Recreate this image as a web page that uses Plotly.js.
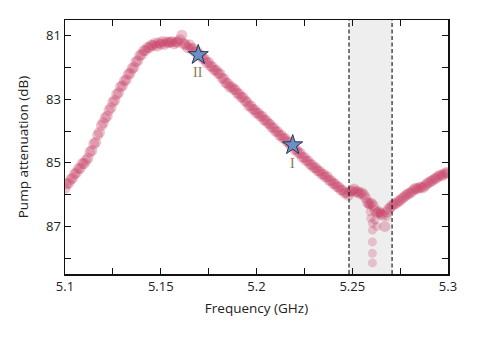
<!DOCTYPE html>
<html>
<head>
<meta charset="utf-8">
<script src="https://cdn.plot.ly/plotly-3.0.1.min.js"></script>
<style>
  body { margin: 0; background: #fff; }
  #attn { width: 497px; height: 339px; }
</style>
</head>
<body>
<div id="attn"></div>
<script>
// measured sweep: pump attenuation vs frequency
var freq = [
  5.100, 5.101, 5.102, 5.103, 5.104, 5.105, 5.106, 5.107, 5.108, 5.109,
  5.110, 5.111, 5.112, 5.113, 5.114, 5.115, 5.116, 5.117, 5.118, 5.119,
  5.120, 5.121, 5.122, 5.123, 5.124, 5.125, 5.126, 5.127, 5.128, 5.129,
  5.130, 5.131, 5.132, 5.133, 5.134, 5.135, 5.136, 5.137, 5.138, 5.139,
  5.140, 5.141, 5.142, 5.143, 5.144, 5.145, 5.146, 5.147, 5.148, 5.149,
  5.150, 5.151, 5.152, 5.153, 5.154, 5.155, 5.156, 5.157, 5.158, 5.159,
  5.160, 5.161, 5.162, 5.163, 5.164, 5.165, 5.166, 5.167, 5.168, 5.169,
  5.170, 5.171, 5.172, 5.173, 5.174, 5.175, 5.176, 5.177, 5.178, 5.179,
  5.180, 5.181, 5.182, 5.183, 5.184, 5.185, 5.186, 5.187, 5.188, 5.189,
  5.190, 5.191, 5.192, 5.193, 5.194, 5.195, 5.196, 5.197, 5.198, 5.199,
  5.200, 5.201, 5.202, 5.203, 5.204, 5.205, 5.206, 5.207, 5.208, 5.209,
  5.210, 5.211, 5.212, 5.213, 5.214, 5.215, 5.216, 5.217, 5.218, 5.219,
  5.220, 5.221, 5.222, 5.223, 5.224, 5.225, 5.226, 5.227, 5.228, 5.229,
  5.230, 5.231, 5.232, 5.233, 5.234, 5.235, 5.236, 5.237, 5.238, 5.239,
  5.240, 5.241, 5.242, 5.243, 5.244, 5.245, 5.246, 5.247, 5.248, 5.249,
  5.250, 5.251, 5.252, 5.253, 5.254, 5.255, 5.256, 5.257, 5.258, 5.259,
  5.260, 5.261, 5.262, 5.263, 5.264, 5.265, 5.266, 5.267, 5.268, 5.269,
  5.270, 5.271, 5.272, 5.273, 5.274, 5.275, 5.276, 5.277, 5.278, 5.279,
  5.280, 5.281, 5.282, 5.283, 5.284, 5.285, 5.286, 5.287, 5.288, 5.289,
  5.290, 5.291, 5.292, 5.293, 5.294, 5.295, 5.296, 5.297, 5.298, 5.299, 5.300
];
var atten = [
  85.80, 85.66, 85.64, 85.52, 85.48, 85.35, 85.31, 85.18, 85.17, 85.02,
  85.02, 84.92, 84.85, 84.66, 84.61, 84.40, 84.35, 84.12, 84.04, 83.82,
  83.74, 83.58, 83.53, 83.34, 83.26, 83.08, 83.03, 82.84, 82.79, 82.60,
  82.57, 82.42, 82.38, 82.21, 82.18, 82.03, 81.99, 81.82, 81.78, 81.62,
  81.59, 81.47, 81.46, 81.37, 81.37, 81.29, 81.30, 81.23, 81.32, 81.22,
  81.26, 81.18, 81.27, 81.19, 81.21, 81.20, 81.18, 81.25, 81.19, 81.20,
  81.12, 80.98, 81.24, 81.28, 81.37, 81.28, 81.40, 81.40, 81.50, 81.50,
  81.61, 81.60, 81.71, 81.73, 81.85, 81.83, 81.95, 81.98, 82.08, 82.08,
  82.18, 82.20, 82.33, 82.36, 82.48, 82.50, 82.61, 82.60, 82.68, 82.70,
  82.81, 82.83, 82.93, 82.94, 83.05, 83.08, 83.21, 83.20, 83.31, 83.33,
  83.43, 83.43, 83.53, 83.53, 83.65, 83.66, 83.75, 83.78, 83.88, 83.90,
  84.01, 84.01, 84.13, 84.13, 84.23, 84.23, 84.33, 84.36, 84.45, 84.46,
  84.58, 84.60, 84.69, 84.70, 84.83, 84.83, 84.93, 84.94, 85.05, 85.06,
  85.15, 85.16, 85.25, 85.26, 85.35, 85.36, 85.45, 85.43, 85.55, 85.56,
  85.65, 85.66, 85.75, 85.76, 85.85, 85.86, 85.95, 85.94, 86.02, 85.90,
  85.88, 85.82, 85.92, 85.90, 85.97, 85.94, 86.00, 86.10, 86.25, 86.28,
  86.27, 86.35, 86.50, 86.58, 86.54, 86.60, 86.65, 87.00, 86.55, 86.45,
  86.40, 86.33, 86.30, 86.27, 86.22, 86.18, 86.12, 86.08, 86.02, 85.98,
  85.95, 85.92, 85.85, 85.80, 85.82, 85.78, 85.76, 85.78, 85.72, 85.65,
  85.62, 85.58, 85.55, 85.50, 85.48, 85.42, 85.38, 85.40, 85.35, 85.30, 85.32
];

// faint points dropping into the dip inside the shaded band
var dipFreq  = [5.2588, 5.2593, 5.2597, 5.2605, 5.2605, 5.2605, 5.2605, 5.2605, 5.2618, 5.2627, 5.2645, 5.2681];
var dipAtten = [86.33, 86.54, 86.75, 86.90, 87.12, 87.49, 87.85, 88.15, 86.80, 87.00, 86.58, 86.70];

// operating points I and II
var starFreq  = [5.2189, 5.1696];
var starAtten = [84.44, 81.60];
var starLabel = ['I', 'II'];

// shaded band edges (GHz)
var bandEdges = [5.2483, 5.2708];

var traces = [
  {
    //main sweep
    x: freq,
    y: atten,
    type: 'scatter',
    mode: 'markers',
    marker: {color: 'rgba(195, 55, 95, 0.3)', size: 11, line: {width: 0}},
    showlegend: false,
    hoverinfo: 'x+y'
  },{
    //dip points
    x: dipFreq,
    y: dipAtten,
    type: 'scatter',
    mode: 'markers',
    marker: {color: 'rgba(195, 55, 95, 0.25)', size: 9, line: {width: 0}},
    showlegend: false,
    hoverinfo: 'x+y'
  },{
    //stars
    x: starFreq,
    y: starAtten,
    type: 'scatter',
    mode: 'markers',
    marker: {symbol: 'star', color: '#6d90c4', size: 15, line: {color: '#2a3450', width: 1}},
    showlegend: false,
    hoverinfo: 'x+y'
  }
];

var annotations = starLabel.map(function(t, i){
  return {
    x: starFreq[i], y: starAtten[i], xref: 'x', yref: 'y',
    text: t, showarrow: false, yshift: -18,
    font: {family: 'Liberation Serif, serif', size: 14, color: '#8a7b50'}
  };
});

var shapes = [
  {type: 'rect', xref: 'x', yref: 'paper', x0: bandEdges[0], x1: bandEdges[1], y0: 0, y1: 1,
   fillcolor: '#eeeeee', line: {width: 0}, layer: 'below'},
  {type: 'line', xref: 'x', yref: 'paper', x0: bandEdges[0], x1: bandEdges[0], y0: 0, y1: 1,
   line: {color: '#111', width: 1.1, dash: '4px,2.5px'}},
  {type: 'line', xref: 'x', yref: 'paper', x0: bandEdges[1], x1: bandEdges[1], y0: 0, y1: 1,
   line: {color: '#111', width: 1.1, dash: '4px,2.5px'}}
];

var layout = {
  width: 497,
  height: 339,
  margin: {l: 65, r: 49, t: 20, b: 65},
  paper_bgcolor: '#fff',
  plot_bgcolor: '#fff',
  font: {family: 'Open Sans, sans-serif', size: 13, color: '#222'},
  xaxis: {
    title: {text: 'Frequency (GHz)', font: {size: 13.5}, standoff: 9},
    range: [5.1, 5.3],
    tickvals: [5.1, 5.15, 5.2, 5.25, 5.3],
    ticktext: ['5.1', '5.15', '5.2', '5.25', '5.3'],
    ticks: 'inside',
    ticklen: 6,
    tickcolor: '#111',
    minor: {tickvals: [5.125, 5.175, 5.225, 5.275], ticks: 'inside', ticklen: 6, tickcolor: '#111'},
    showgrid: false,
    zeroline: false,
    showline: true,
    linecolor: '#111',
    linewidth: 1.5,
    mirror: 'ticks'
  },
  yaxis: {
    title: {text: 'Pump attenuation (dB)', font: {size: 13.5}, standoff: 14},
    range: [88.5, 80.5],
    tickvals: [81, 83, 85, 87],
    ticks: 'inside',
    ticklen: 6,
    tickcolor: '#111',
    minor: {tickvals: [82, 84, 86, 88], ticks: 'inside', ticklen: 6, tickcolor: '#111'},
    showgrid: false,
    zeroline: false,
    showline: true,
    linecolor: '#111',
    linewidth: 1.5,
    mirror: 'ticks'
  },
  shapes: shapes,
  annotations: annotations
};

Plotly.newPlot('attn', traces, layout, {displayModeBar: false, staticPlot: true});
</script>
</body>
</html>
